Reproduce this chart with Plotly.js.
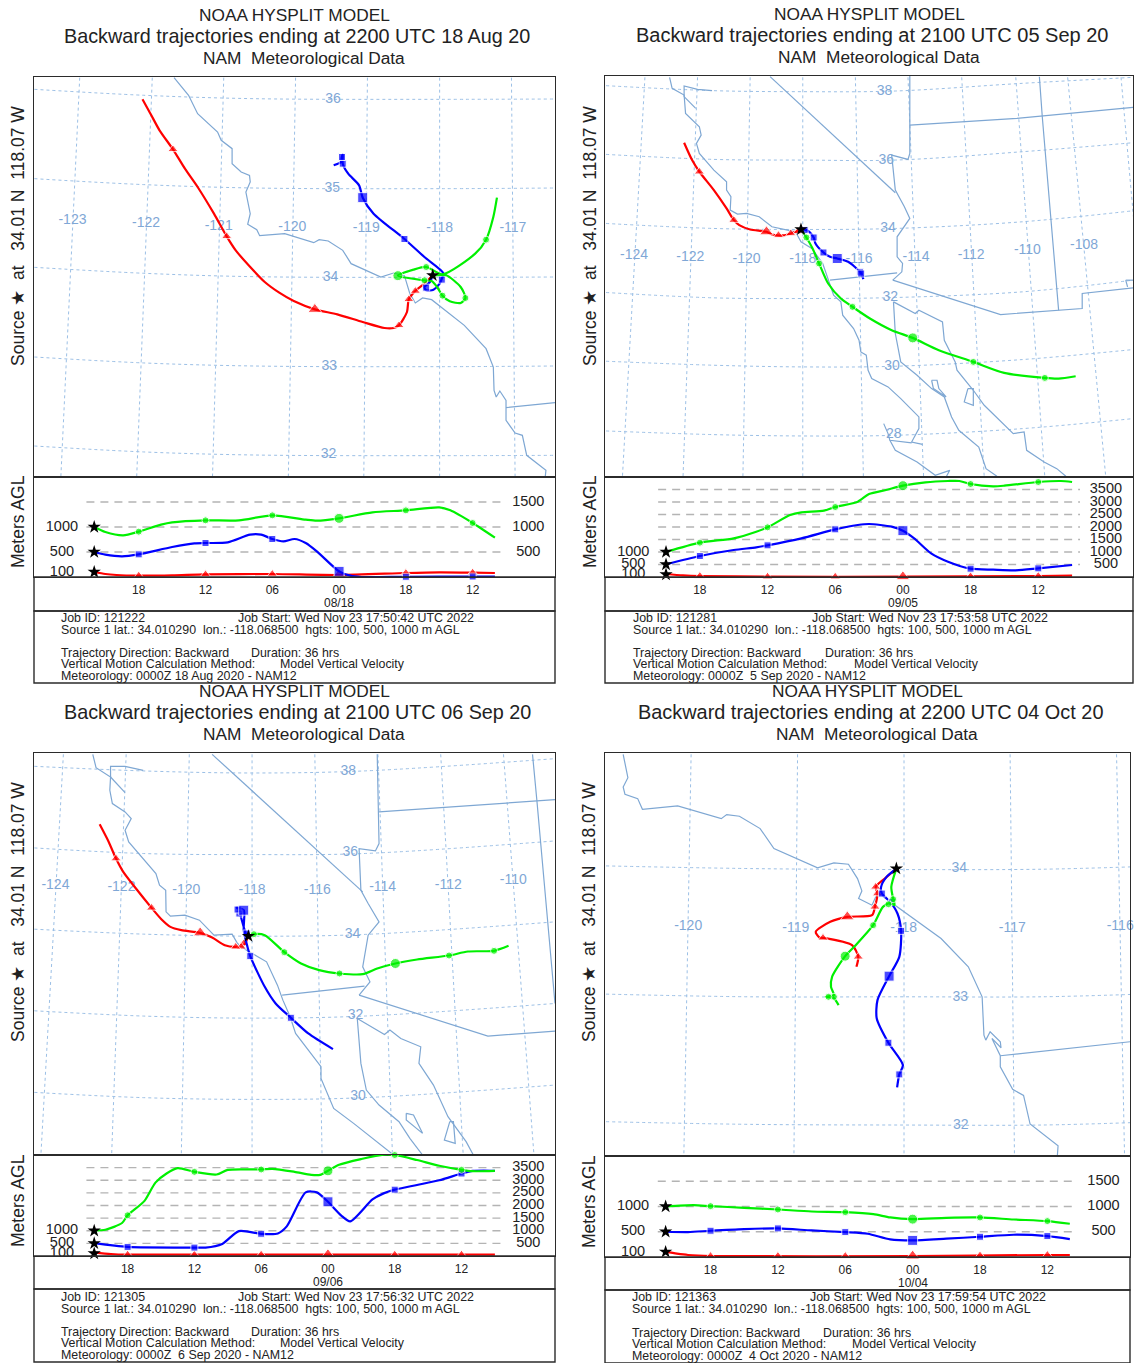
<!DOCTYPE html>
<html><head><meta charset="utf-8">
<script src="https://cdn.plot.ly/plotly-3.0.1.min.js"></script>
<style>html,body{margin:0;padding:0;background:#fff}</style></head>
<body><div id="chart" style="width:1138px;height:1363px"></div>
<script>
// ---------- map coordinates: projected map units, one list per feature ----------
const p1Red=[[1193,825],[1170,850],[1145,872],[1127,897],[1122,935],[1100,975],[1085,983],[1060,983],[1000,965],[930,942],[868,927],[810,902],[770,877],[730,845],[690,800],[650,750],[625,708],[590,640],[545,560],[510,505],[477,447],[440,390],[415,340],[393,297]];
const p1RedMarks=[[1145,872],[1127,897],[1100,975],[868,927],[625,708],[477,447]];
const p1Blue=[[1193,825],[1185,845],[1170,860],[1175,870],[1195,868],[1212,850],[1218,835],[1222,818],[1170,770],[1115,716],[1030,640],[1000,592],[990,555],[960,520],[945,490],[945,462],[942,472],[940,485],[920,495]];
const p1BlueMarks=[[1175,862],[1218,838],[1115,716],[1000,592],[945,490],[943,470]];
const p1Green=[[1193,825],[1230,825],[1270,860],[1283,893],[1270,908],[1240,903],[1220,886],[1205,860],[1190,842],[1170,840],[1097,826],[1140,808],[1175,800],[1220,822],[1310,760],[1340,718],[1360,650],[1370,592]];
const p1GreenMarks=[[1283,893],[1220,886],[1170,840],[1097,826],[1175,800],[1340,718]];
const p1Star=[1193,825];
const p1Coast=[[[480,232],[520,285],[545,340],[600,395],[610,420],[640,445],[640,490],[665,515],[688,525],[690,545],[678,575],[690,640],[683,672],[708,688],[716,706],[785,700],[865,727],[880,718],[905,722],[945,750],[968,790],[1050,830],[1085,818],[1115,826],[1130,880],[1145,908],[1165,893],[1190,898],[1280,975],[1340,1045],[1360,1100],[1362,1170],[1368,1190],[1378,1172],[1395,1200],[1395,1222],[1395,1260],[1420,1298],[1440,1305],[1452,1365],[1505,1410],[1503,1430]],[[1395,1222],[1530,1207]]];
const p1LatLines=[[[95,267],[400,285],[700,295],[1212,297],[1530,296]],[[95,535],[400,553],[700,563],[1212,565],[1530,563]],[[95,801],[400,819],[700,829],[1212,831],[1530,830]],[[95,1070],[400,1088],[700,1097],[1212,1099],[1530,1097]],[[95,1337],[400,1355],[700,1364],[1212,1366],[1530,1365]]];
const p1LonLines=[[[220,232],[168,1430]],[[420,232],[377,1430]],[[617,232],[586,1430]],[[815,232],[795,1430]],[[1013,232],[1003,1430]],[[1212,232],[1212,1430]],[[1410,232],[1420,1430]]];
const p1GridLabels=[['-123',200,660],['-122',403,668],['-121',603,677],['-120',806,680],['-119',1010,685],['-118',1212,685],['-117',1414,683],['36',918,296],['35',916,563],['34',911,830],['33',908,1098],['32',906,1363]];

const p2Red=[[640,688],[612,700],[590,706],[560,703],[545,695],[500,688],[470,675],[455,660],[435,625],[400,570],[360,515],[340,480],[318,428]];
const p2RedMarks=[[632,694],[612,700],[578,705],[545,695],[455,660],[360,515]];
const p2Blue=[[640,688],[655,690],[665,697],[675,712],[680,730],[702,757],[720,770],[740,775],[770,785],[803,815],[808,825],[812,837]];
const p2BlueMarks=[[650,690],[675,712],[702,757],[740,775],[803,815],[806,820]];
const p2Green=[[640,688],[655,712],[672,745],[690,790],[715,850],[750,895],[782,920],[830,955],[890,990],[948,1013],[1020,1050],[1115,1085],[1200,1118],[1312,1133],[1350,1135],[1397,1128]];
const p2GreenMarks=[[655,712],[690,790],[782,920],[948,1013],[1115,1085],[1312,1133]];
const p2Star=[640,688];
const p2Coast=[[[278,232],[285,265],[318,285],[322,340],[360,380],[365,405],[352,430],[360,460],[400,510],[435,545],[435,570],[447,590],[445,630],[465,642],[490,640],[525,650],[560,680],[600,690],[625,695],[640,725],[670,745],[700,790],[715,840],[730,885],[750,905],[755,945],[785,985],[800,1020],[805,1055],[820,1065],[825,1110],[835,1135],[880,1160],[915,1195],[965,1250],[965,1285],[945,1325],[975,1332]],[[868,1270],[880,1300],[885,1320],[945,1328]],[[885,1320],[900,1350],[960,1385],[1010,1425],[1050,1410],[1040,1430]],[[318,290],[318,258],[355,268],[395,272]],[[318,290],[350,325]],[[940,228],[940,460],[935,478],[890,465],[900,570],[925,620],[940,655],[905,710],[905,770],[920,790],[918,815],[893,840]],[[555,230],[900,578]],[[720,840],[905,818]],[[893,840],[1190,943],[1415,925],[1415,880],[1555,863]],[[940,375],[1235,355],[1555,322]],[[1297,230],[1305,350],[1350,930]],[[1535,840],[1555,840]],[[1535,840],[1540,860]],[[895,905],[900,1000],[915,1085],[960,1125],[1000,1165],[1035,1190],[1055,1250],[1075,1290],[1130,1340],[1150,1405],[1180,1428]],[[895,905],[955,940],[965,930],[1030,965],[1035,1020],[1065,1085],[1070,1110],[1115,1170],[1145,1215],[1225,1300],[1255,1295],[1262,1350],[1310,1385],[1345,1405],[1370,1428]],[[1000,1140],[1015,1140],[1020,1165],[1040,1190],[1005,1165],[1000,1140]],[[1100,1165],[1115,1165],[1115,1215],[1090,1205],[1100,1165]]];
const p2LatLines=[[[103,257],[400,272],[645,275],[900,273],[1250,250],[1555,232]],[[103,463],[400,478],[645,480],[900,480],[1250,455],[1555,428]],[[103,670],[400,685],[645,688],[900,685],[1250,665],[1555,632]],[[103,877],[400,893],[645,895],[900,892],[1250,875],[1555,840]],[[103,1083],[400,1095],[645,1100],[900,1098],[1250,1078],[1555,1048]],[[103,1292],[400,1303],[645,1307],[900,1305],[1250,1285],[1555,1255]]];
const p2LonLines=[[[210,232],[148,1430]],[[355,232],[315,1430]],[[500,232],[480,1430]],[[645,232],[645,1430]],[[790,232],[812,1430]],[[935,232],[978,1430]],[[1083,232],[1145,1430]],[[1232,232],[1312,1430]],[[1375,232],[1480,1430]],[[1522,232],[1620,1430]]];
const p2GridLabels=[['-124',180,765],['-122',335,772],['-120',490,778],['-118',645,778],['-116',800,778],['-114',957,772],['-112',1109,765],['-110',1264,752],['-108',1420,737],['38',870,273],['36',875,481],['34',880,686],['32',886,892],['30',891,1098],['28',896,1303]];

const p3Red=[[685,768],[672,795],[650,800],[620,795],[585,772],[552,758],[500,750],[470,740],[445,717],[418,683],[375,625],[340,575],[320,535],[300,485],[275,432]];
const p3RedMarks=[[672,790],[665,800],[650,800],[552,758],[418,683],[320,535]];
const p3Blue=[[685,768],[678,760],[660,695],[653,682],[672,690],[672,750],[680,790],[690,828],[730,920],[760,970],[802,1013],[850,1060],[918,1107]];
const p3BlueMarks=[[680,760],[660,700],[655,688],[672,690],[690,828],[802,1013]];
const p3Green=[[685,768],[700,762],[730,765],[784,816],[830,850],[880,870],[936,880],[1000,882],[1040,865],[1090,850],[1150,838],[1238,826],[1290,814],[1362,812],[1402,797]];
const p3GreenMarks=[[700,762],[784,816],[936,880],[1090,850],[1238,826],[1362,812]];
const p3Star=[685,768];
const p3Coast=[[[256,222],[265,262],[305,290],[303,330],[310,370],[345,395],[362,415],[345,450],[355,485],[390,530],[430,580],[440,615],[457,630],[458,695],[470,708],[510,705],[550,720],[590,765],[640,762],[655,790],[680,810],[735,845],[765,915],[780,960],[800,1010],[815,1060],[850,1110],[885,1160],[885,1195],[920,1285],[975,1330],[1040,1385],[1085,1425]],[[305,290],[305,258],[345,258],[395,270]],[[305,290],[345,337]],[[1040,222],[1045,490],[1035,512],[990,505],[995,630],[1015,670],[1045,725],[1015,765],[1000,860],[1020,905],[990,945]],[[585,222],[1000,635]],[[778,945],[1005,918]],[[990,945],[1345,1068],[1530,1053]],[[1045,395],[1530,358]],[[1468,222],[1480,360],[1530,970]],[[985,1015],[995,1150],[1010,1230],[1045,1275],[1100,1325],[1130,1375],[1165,1425]],[[985,1015],[1060,1063],[1075,1050],[1105,1075],[1160,1100],[1155,1150],[1195,1215],[1235,1310],[1285,1385],[1305,1425]],[[1120,1300],[1140,1305],[1165,1360],[1120,1320],[1120,1300]],[[1240,1325],[1250,1325],[1255,1390],[1225,1380],[1240,1325]]];
const p3LatLines=[[[95,258],[400,272],[694,278],[1000,272],[1530,235]],[[95,503],[400,520],[694,523],[1000,520],[1530,482]],[[95,747],[400,762],[694,768],[1000,763],[1530,725]],[[95,992],[400,1008],[694,1014],[1000,1008],[1530,970]],[[95,1237],[400,1253],[694,1258],[1000,1253],[1530,1215]]];
const p3LonLines=[[[175,222],[113,1425]],[[348,222],[308,1425]],[[522,222],[500,1425]],[[695,222],[695,1425]],[[868,222],[888,1425]],[[1042,222],[1082,1425]],[[1215,222],[1277,1425]],[[1388,222],[1472,1425]]];
const p3GridLabels=[['-124',153,615],['-122',335,623],['-120',514,630],['-118',695,632],['-116',875,630],['-114',1055,622],['-112',1236,615],['-110',1415,600],['38',960,273],['36',966,518],['34',972,763],['32',980,1005],['30',987,1250]];

const p4Red=[[902,565],[870,595],[845,620],[850,640],[843,680],[835,705],[767,710],[720,725],[680,755],[690,772],[700,773],[780,795],[797,830],[792,860]];
const p4RedMarks=[[845,620],[850,640],[843,680],[767,710],[700,773],[797,830]];
const p4Blue=[[902,565],[875,590],[860,620],[862,640],[885,665],[905,700],[915,752],[910,830],[882,888],[850,960],[848,1015],[880,1088],[920,1155],[910,1183],[904,1222]];
const p4BlueMarks=[[862,640],[890,665],[915,752],[882,888],[880,1088],[910,1183]];
const p4Green=[[902,565],[888,620],[893,655],[897,675],[885,668],[865,680],[838,735],[790,795],[761,828],[725,890],[722,920],[730,945],[707,950],[728,952],[743,975]];
const p4GreenMarks=[[893,657],[880,672],[838,735],[761,828],[730,950],[715,950]];
const p4Star=[902,565];
const p4Coast=[[[150,222],[163,292],[150,320],[155,342],[190,355],[203,387],[300,377],[420,415],[435,403],[470,408],[527,445],[565,505],[685,563],[730,548],[770,552],[795,595],[807,632],[798,655],[835,675],[845,650],[860,645],[905,680],[1025,775],[1100,860],[1138,950],[1143,1065],[1148,1080],[1160,1055],[1188,1085],[1190,1103],[1165,1075],[1188,1127],[1188,1160],[1222,1228],[1252,1246],[1270,1332],[1347,1397],[1345,1428]],[[1188,1127],[1545,1085]]];
const p4LatLines=[[[103,557],[500,565],[923,568],[1300,567],[1545,560]],[[103,942],[500,950],[923,950],[1300,950],[1545,943]],[[103,1325],[500,1333],[923,1335],[1300,1335],[1545,1328]]];
const p4LonLines=[[[337,222],[317,1428]],[[630,222],[620,1428]],[[923,222],[923,1428]],[[1215,222],[1227,1428]],[[1508,222],[1530,1428]]];
const p4GridLabels=[['-120',329,740],['-119',625,745],['-118',922,745],['-117',1221,745],['-116',1518,740],['34',1075,566],['33',1078,952],['32',1079,1335]];

// ---------- altitude: [hours back from start, metres AGL] ----------
const p1AltGreen=[[0,1000],[1,900],[2.6,833],[4,907],[6,1047],[7,1093],[10,1133],[13,1133],[16,1233],[19,1147],[20,1127],[22,1173],[25,1293],[28,1333],[31,1393],[32,1333],[34,1080],[36,787]];
const p1AltBlue=[[0,500],[1,447],[2.5,413],[4,453],[7,600],[9,673],[10,680],[12,693],[14,847],[15,847],[16,760],[17,713],[18,760],[19,680],[20,513],[22,113],[23,27],[24,0],[28,5],[34,10],[36,10]];
const p1AltRed=[[0,100],[1,60],[2,40],[4,27],[7,33],[10,53],[16,60],[22,40],[28,80],[31,93],[34,87],[36,80]];
const p2AltGreen=[[0,1000],[3,1373],[6,1547],[8,1813],[9,1987],[11,2480],[12,2587],[14,2653],[15,2800],[17,3013],[18,3320],[19.5,3480],[21,3653],[23,3787],[25,3840],[26,3840],[27,3720],[29,3627],[30,3653],[33,3800],[35,3840],[36,3800]];
const p2AltBlue=[[0,507],[3,840],[6,1080],[8,1187],[9,1267],[12,1547],[15,1907],[17,2080],[18,2120],[20,2013],[21,1853],[22,1547],[23.5,947],[25,613],[27,333],[29,293],[31,267],[33,347],[36,480]];
const p2AltRed=[[0,120],[1.5,67],[3,40],[9,13],[21,13],[33,40],[36,53]];
const p3AltGreen=[[0,1013],[1,1040],[2.5,1307],[3,1613],[4.5,2173],[5.5,2907],[6.5,3267],[7.5,3480],[9,3333],[11,3227],[12,3413],[15,3427],[16,3453],[18,3333],[19.5,3213],[20.3,3213],[21,3373],[22,3613],[24,3840],[26,4013],[27,4000],[29,3800],[31,3573],[33,3413],[34,3360],[36,3373]];
const p3AltBlue=[[0,507],[3,360],[9,333],[10,333],[11.5,480],[13,987],[15,880],[16.5,893],[17.3,1173],[19,2520],[20,2520],[21,2147],[22.2,1600],[23,1373],[25,2240],[26,2480],[27,2627],[29,2813],[31,3000],[33,3267],[34,3373],[35,3387],[36,3373]];
const p3AltRed=[[0,147],[1.5,80],[3,53],[36,53]];
const p4AltGreen=[[0,1000],[2.5,1026],[4,1007],[7,974],[10,941],[13,901],[16,888],[18.5,849],[20,783],[22,750],[25,776],[28,783],[31,743],[34,711],[36,658]];
const p4AltBlue=[[0,500],[2,493],[4,520],[7,553],[10,566],[13,526],[16,493],[18,461],[20,349],[22,329],[25,362],[28,401],[31,441],[34,414],[36,355]];
const p4AltRed=[[0,100],[1,66],[2,40],[4,20],[22,20],[34,40],[36,40]];

// ---------- labels ----------
const tickHoursA=[4,10,16,22,28,34], tickHoursB=[3,9,15,21,27,33];
const tickNames=['18','12','06','00','18','12'];
const dateLabels=['08/18','09/05','09/06','10/04'];
const altLevelsFew=[500,1000,1500], altLevelsMany=[500,1000,1500,2000,2500,3000,3500];
const startHeights=[100,500,1000];
const titleLine1='NOAA HYSPLIT MODEL';
const titleLine2=['Backward trajectories ending at 2200 UTC 18 Aug 20','Backward trajectories ending at 2100 UTC 05 Sep 20','Backward trajectories ending at 2100 UTC 06 Sep 20','Backward trajectories ending at 2200 UTC 04 Oct 20'];
const titleLine3='NAM\u00a0\u00a0Meteorological Data';
const jobIds=['121222','121281','121305','121363'];
const jobStarts=['17:50:42','17:53:58','17:56:32','17:59:54'];
const metDates=['18 Aug 2020','\u00a05 Sep 2020','\u00a06 Sep 2020','\u00a04 Oct 2020'];

const COAST='#7ea7d3', GRID='#9cc0e6', LABEL='#7fa7d6', FRAME='#2b2b2b', DASH='#b4b4b4';
const FONT='"Liberation Sans", Arial, sans-serif';
const W=1138,H=1363;

const panels=[
 {l:34,r:555,t:77,b:477,s:577,i:611,e:683,xr:[94,1530],yr:[1430,230],ax:[-5.41,41.4],ay:[0,2000],ticks:tickHoursA,lev:altLevelsFew,
  red:p1Red,rm:p1RedMarks,blue:p1Blue,bm:p1BlueMarks,green:p1Green,gm:p1GreenMarks,star:p1Star,coast:p1Coast,lat:p1LatLines,lon:p1LonLines,gl:p1GridLabels,ag:p1AltGreen,ab:p1AltBlue,ar:p1AltRed,
  tx:[294,297,304],ty:[15,36,58],ts:19.8,ix:[60,237,249.5,279],iy:[618,630,653,664,676],lx:18,ly:[236,522]},
 {l:605,r:1133,t:76,b:477,s:577,i:611,e:683,xr:[100,1555],yr:[1430,228],ax:[-5.41,41.4],ay:[0,4000],ticks:tickHoursB,lev:altLevelsMany,
  red:p2Red,rm:p2RedMarks,blue:p2Blue,bm:p2BlueMarks,green:p2Green,gm:p2GreenMarks,star:p2Star,coast:p2Coast,lat:p2LatLines,lon:p2LonLines,gl:p2GridLabels,ag:p2AltGreen,ab:p2AltBlue,ar:p2AltRed,
  tx:[869,872,878.6],ty:[14,35,57],ts:20,ix:[632,810.6,823.6,853],iy:[618,630,653,664,676],lx:590,ly:[236,522]},
 {l:34,r:555,t:753,b:1155,s:1256,i:1289,e:1362,xr:[94,1530],yr:[1425,218],ax:[-5.41,41.4],ay:[0,4000],ticks:tickHoursB,lev:altLevelsMany,
  red:p3Red,rm:p3RedMarks,blue:p3Blue,bm:p3BlueMarks,green:p3Green,gm:p3GreenMarks,star:p3Star,coast:p3Coast,lat:p3LatLines,lon:p3LonLines,gl:p3GridLabels,ag:p3AltGreen,ab:p3AltBlue,ar:p3AltRed,
  tx:[294,297,304],ty:[691,712,734],ts:19.8,ix:[60,237,249.5,279],iy:[1297,1309,1332,1343,1355],lx:18,ly:[912,1201]},
 {l:605,r:1130,t:753,b:1156,s:1257,i:1290,e:1363,xr:[100,1545],yr:[1428,218],ax:[-5.4,41.36],ay:[0,2000],ticks:tickHoursA,lev:altLevelsFew,
  red:p4Red,rm:p4RedMarks,blue:p4Blue,bm:p4BlueMarks,green:p4Green,gm:p4GreenMarks,star:p4Star,coast:p4Coast,lat:p4LatLines,lon:p4LonLines,gl:p4GridLabels,ag:p4AltGreen,ab:p4AltBlue,ar:p4AltRed,
  tx:[867,870,876.6],ty:[691,712,734],ts:19.9,ix:[631.4,809,822,851],iy:[1297,1309,1333,1344,1356],lx:589,ly:[912,1202]}
];

const traces=[],shapes=[],annotations=[];
const layout={width:W,height:H,margin:{l:0,r:0,t:0,b:0,pad:0},paper_bgcolor:'#fff',plot_bgcolor:'rgba(0,0,0,0)',showlegend:false,hovermode:false,font:{family:FONT,color:'#222'}};
const fx=p=>p/W, fy=p=>1-p/H;
const xs=a=>a.map(d=>d[0]), ys=a=>a.map(d=>d[1]);
const SER=[['red','#ff0000','triangle-up',9,12],['blue','#0000ff','square',7,10],['green','#00f000','circle',7,10]];
const INFO=12.4;

function note(text,x,y,size,anchor,extra){
  annotations.push(Object.assign({text,x:fx(x),y:fy(y),xref:'paper',yref:'paper',showarrow:false,xanchor:anchor,yanchor:'middle',align:anchor,font:{family:FONT,size,color:'#222'},borderpad:0},extra||{}));
}

panels.forEach((p,k)=>{
  const m=k+1,a=k+5, mx='x'+m,my='y'+m,ax='x'+a,ay='y'+a;
  const axisBase={showgrid:false,zeroline:false,showline:true,mirror:true,linecolor:FRAME,linewidth:1.4,fixedrange:true};
  layout['xaxis'+m]=Object.assign({},axisBase,{domain:[fx(p.l),fx(p.r)],range:p.xr,anchor:my,showticklabels:false,ticks:''});
  layout['yaxis'+m]=Object.assign({},axisBase,{domain:[fy(p.b),fy(p.t)],range:p.yr,anchor:mx,showticklabels:false,ticks:''});
  layout['xaxis'+a]=Object.assign({},axisBase,{domain:[fx(p.l),fx(p.r)],range:p.ax,anchor:ay,tickmode:'array',tickvals:p.ticks,ticktext:tickNames,ticks:'outside',ticklen:1,tickcolor:'rgba(0,0,0,0)',tickfont:{family:FONT,size:12,color:'#222'}});
  layout['yaxis'+a]=Object.assign({},axisBase,{domain:[fy(p.s),fy(p.b)],range:p.ay,anchor:ax,showticklabels:false,ticks:''});

  // map grid and coast
  p.lat.concat(p.lon).forEach(g=>traces.push({type:'scatter',mode:'lines',x:xs(g),y:ys(g),xaxis:mx,yaxis:my,line:{color:GRID,width:1,dash:'dot',shape:g.length>2?'spline':'linear'},hoverinfo:'skip'}));
  p.coast.forEach(c=>traces.push({type:'scatter',mode:'lines',x:xs(c),y:ys(c),xaxis:mx,yaxis:my,line:{color:COAST,width:1.2},hoverinfo:'skip'}));
  traces.push({type:'scatter',mode:'text',x:p.gl.map(d=>d[1]),y:p.gl.map(d=>d[2]),text:p.gl.map(d=>d[0]),xaxis:mx,yaxis:my,textposition:'middle center',textfont:{family:FONT,size:14,color:LABEL},cliponaxis:false,hoverinfo:'skip'});

  // trajectories
  SER.forEach(([n,col,sym,sm,lg])=>{
    const path=p[n],marks=p[n[0]==='r'?'rm':n[0]==='b'?'bm':'gm'];
    traces.push({type:'scatter',mode:'lines',x:xs(path),y:ys(path),xaxis:mx,yaxis:my,line:{color:col,width:2.2,shape:'spline',smoothing:0.7},hoverinfo:'skip'});
    traces.push({type:'scatter',mode:'markers',x:xs(marks),y:ys(marks),xaxis:mx,yaxis:my,marker:{color:col,symbol:sym,size:marks.map((_,i)=>i===3?lg:sm)},hoverinfo:'skip'});
  });
  traces.push({type:'scatter',mode:'markers',x:[p.star[0]],y:[p.star[1]],xaxis:mx,yaxis:my,marker:{symbol:'star',size:10,color:'#000'},hoverinfo:'skip'});

  // altitude panel
  p.lev.forEach(v=>traces.push({type:'scatter',mode:'lines',x:[-0.7,36.7],y:[v,v],xaxis:ax,yaxis:ay,line:{color:DASH,width:1.3,dash:'8px,6px'},hoverinfo:'skip'}));
  const big=p.ticks[3];
  [['ar','#ff0000','triangle-up',9,12],['ab','#0000ff','square',7,10],['ag','#00f000','circle',7,10]].forEach(([key,col,sym,sm,lg])=>{
    const s=p[key];
    const hx=xs(s),hy=ys(s);
    traces.push({type:'scatter',mode:'lines',x:hx,y:hy,xaxis:ax,yaxis:ay,cliponaxis:false,line:{color:col,width:2.2,shape:'spline',smoothing:0.7},hoverinfo:'skip'});
    // time-step markers sit on the curve at the tick hours
    const mxs=[],mys=[],mss=[];
    p.ticks.forEach(t=>{
      let v=null;
      for(let i=0;i<hx.length-1;i++){ if(hx[i]<=t&&t<=hx[i+1]){v=hy[i]+(hy[i+1]-hy[i])*(t-hx[i])/((hx[i+1]-hx[i])||1);break;} }
      mxs.push(t);mys.push(v);mss.push(t===big?lg:sm);
    });
    traces.push({type:'scatter',mode:'markers',x:mxs,y:mys,xaxis:ax,yaxis:ay,cliponaxis:false,marker:{color:col,symbol:sym,size:mss},hoverinfo:'skip'});
  });
  traces.push({type:'scatter',mode:'markers',x:startHeights.map(()=>0),y:startHeights,xaxis:ax,yaxis:ay,cliponaxis:false,marker:{symbol:'star',size:10,color:'#000'},hoverinfo:'skip'});
  traces.push({type:'scatter',mode:'text',x:startHeights.map(()=>-2.9),y:startHeights,text:startHeights.map(String),xaxis:ax,yaxis:ay,cliponaxis:false,textposition:'middle center',textfont:{family:FONT,size:14.5,color:'#222'},hoverinfo:'skip'});
  traces.push({type:'scatter',mode:'text',x:p.lev.map(()=>39),y:p.lev,text:p.lev.map(String),xaxis:ax,yaxis:ay,cliponaxis:false,textposition:'middle center',textfont:{family:FONT,size:14.5,color:'#222'},hoverinfo:'skip'});

  // boxes under the altitude panel
  [[p.s,p.i],[p.i,p.e]].forEach(([t,b])=>shapes.push({type:'rect',xref:'paper',yref:'paper',x0:fx(p.l),x1:fx(p.r),y0:fy(b),y1:fy(t),line:{color:FRAME,width:1.4}}));

  // titles
  note(titleLine1,p.tx[0],p.ty[0],17.3,'center');
  note(titleLine2[k],p.tx[1],p.ty[1],p.ts,'center');
  note(titleLine3,p.tx[2],p.ty[2],17.3,'center');
  // date under 00
  const xs00=p.l+(big-p.ax[0])/(p.ax[1]-p.ax[0])*(p.r-p.l);
  note(dateLabels[k],xs00,p.s+26,12,'center');
  // rotated side labels
  note('Source \u2605\u00a0\u00a0at\u00a0\u00a0\u00a034.01 N\u00a0\u00a0118.07 W',p.lx,p.ly[0],17.5,'center',{textangle:-90});
  note('Meters AGL',p.lx,p.ly[1],17.5,'center',{textangle:-90});
  // info block
  note('Job ID: '+jobIds[k],p.ix[0],p.iy[0],INFO,'left');
  note('Job Start: Wed Nov 23 '+jobStarts[k]+' UTC 2022',p.ix[1],p.iy[0],INFO,'left');
  note('Source 1 lat.: 34.010290\u00a0\u00a0lon.: -118.068500\u00a0\u00a0hgts: 100, 500, 1000 m AGL',p.ix[0],p.iy[1],INFO,'left');
  note('Trajectory Direction: Backward',p.ix[0],p.iy[2],INFO,'left');
  note('Duration: 36 hrs',p.ix[2],p.iy[2],INFO,'left');
  note('Vertical Motion Calculation Method:',p.ix[0],p.iy[3],INFO,'left');
  note('Model Vertical Velocity',p.ix[3],p.iy[3],INFO,'left');
  note('Meteorology: 0000Z '+metDates[k]+' - NAM12',p.ix[0],p.iy[4],INFO,'left');
});
layout.shapes=shapes;layout.annotations=annotations;
Plotly.newPlot('chart',traces,layout,{staticPlot:true,displayModeBar:false});
</script></body></html>
